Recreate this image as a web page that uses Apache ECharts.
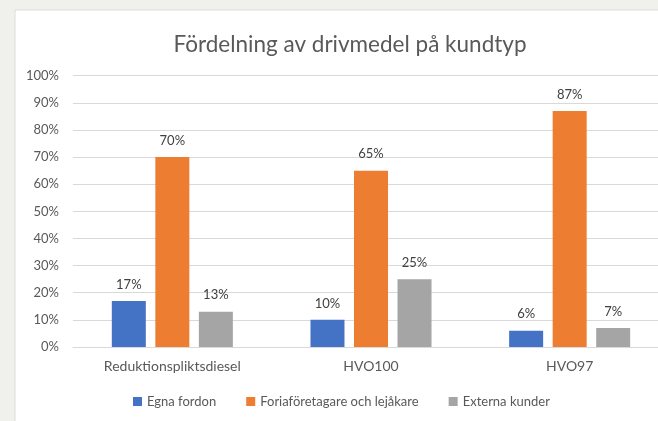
<!DOCTYPE html>
<html>
<head>
<meta charset="utf-8">
<script src="https://cdn.jsdelivr.net/npm/echarts@6/dist/echarts.min.js"></script>
<style>
html,body{margin:0;padding:0;background:#f0f0ec;overflow:hidden;width:658px;height:421px;}
#c{width:700px;height:421px;}
</style>
</head>
<body>
<div id="c"></div>
<script>
const titleText = 'Fördelning av drivmedel på kundtyp';
const categories = ['Reduktionspliktsdiesel', 'HVO100', 'HVO97'];
const seriesNames = ['Egna fordon', 'Foriaföretagare och lejåkare', 'Externa kunder'];
const egnaFordon = [17, 10, 6];
const foriaforetagare = [70, 65, 87];
const externaKunder = [13, 25, 7];
const yTicks = [0, 10, 20, 30, 40, 50, 60, 70, 80, 90, 100];
const colors = ['#4472c4', '#ed7d31', '#a5a5a5'];

const font = 'Lato, "Open Sans", sans-serif';
const chart = echarts.init(document.getElementById('c'));
const values = [egnaFordon, foriaforetagare, externaKunder];
chart.setOption({
  backgroundColor: '#f0f0ec',
  animation: false,
  textStyle: { fontFamily: font },
  graphic: [{
    type: 'rect', z: -10, silent: true,
    shape: { x: 15, y: 10, width: 700, height: 420 },
    style: { fill: '#ffffff', stroke: '#dcdcd8', lineWidth: 1 }
  }],
  title: {
    text: titleText, left: 'center', top: 28,
    textStyle: { fontFamily: font, fontSize: 22.5, fontWeight: 'normal', color: '#595959' }
  },
  legend: {
    bottom: 8, left: 128, itemWidth: 9, itemHeight: 9, itemGap: 30,
    icon: 'rect',
    textStyle: { fontFamily: font, fontSize: 13, color: '#595959' },
    data: seriesNames
  },
  grid: { left: 73, top: 75.7, bottom: 74, right: 31, containLabel: false },
  xAxis: {
    type: 'category', data: categories,
    axisLine: { show: true, lineStyle: { color: '#d9d9d9' } },
    axisTick: { show: false },
    axisLabel: { fontFamily: font, fontSize: 14, color: '#595959', margin: 12 }
  },
  yAxis: {
    type: 'value', min: yTicks[0], max: yTicks[yTicks.length - 1], interval: 10,
    axisLine: { show: false }, axisTick: { show: false },
    splitLine: { lineStyle: { color: '#d9d9d9' } },
    axisLabel: { fontFamily: font, fontSize: 13, color: '#595959', margin: 14, formatter: v => v + '%' }
  },
  series: seriesNames.map((n, i) => ({
    name: n, type: 'bar', data: values[i], barWidth: 34, barGap: '28%',
    itemStyle: { color: colors[i] },
    label: { show: true, position: 'top', distance: 10, fontFamily: font, fontSize: 13, color: '#404040', formatter: p => p.value + '%' }
  }))
});
</script>
</body>
</html>
